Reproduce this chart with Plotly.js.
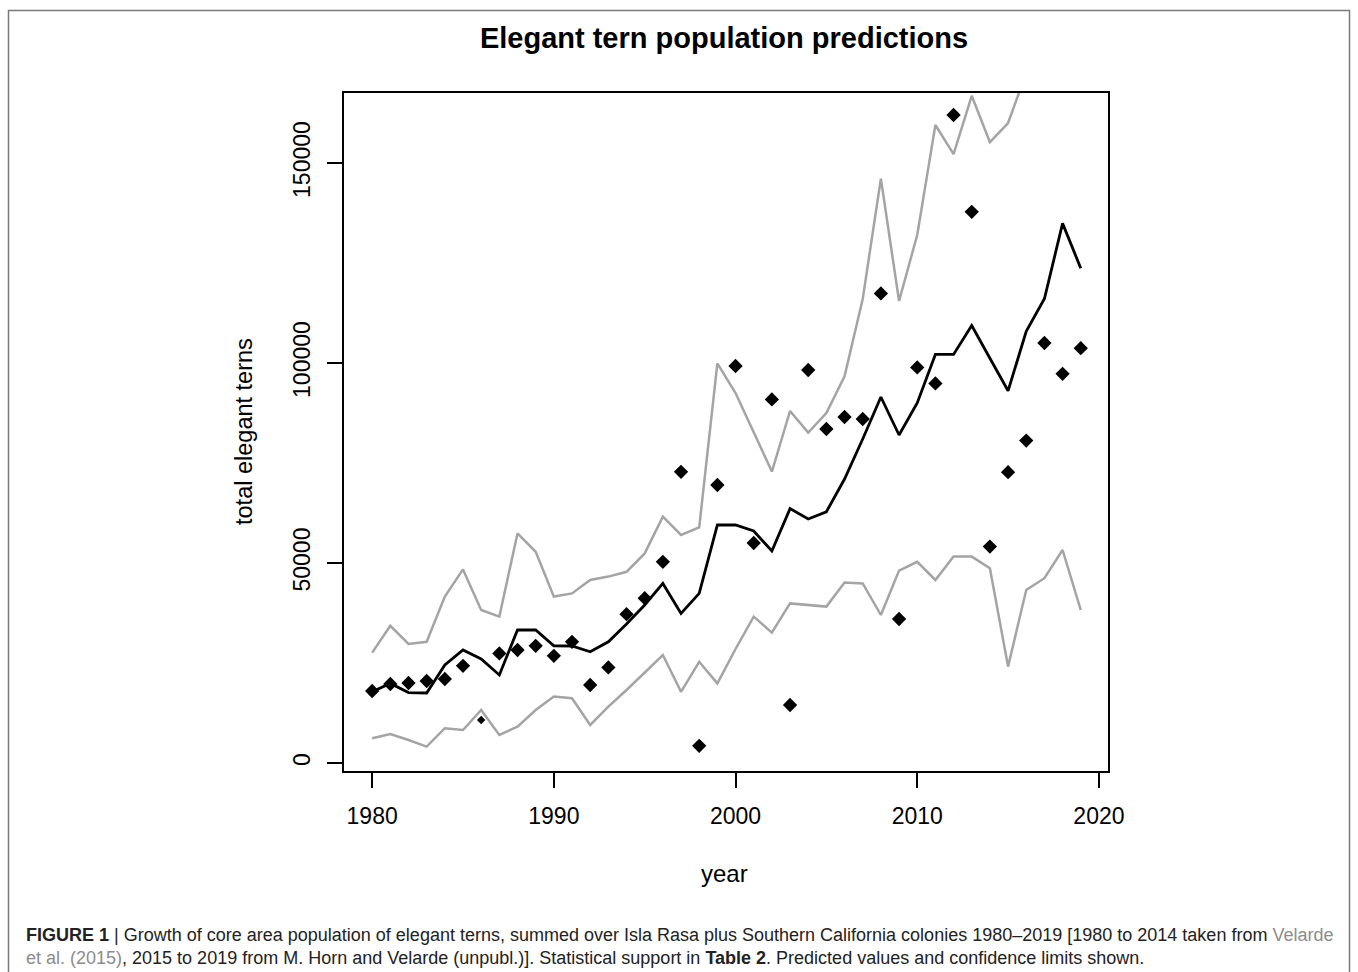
<!DOCTYPE html>
<html>
<head>
<meta charset="utf-8">
<script src="https://cdn.plot.ly/plotly-3.0.1.min.js"></script>
<style>
html,body{margin:0;padding:0;background:#fff;}
#chart{width:1358px;height:972px;}
</style>
</head>
<body>
<div id="chart"></div>
<script>
var years = [];
for (var y = 1980; y <= 2019; y++) years.push(y);

var observed = [18000,19750,20000,20500,21000,24300,10750,27400,28250,29300,
                26800,30300,19500,23900,37200,41200,50300,72800,4300,69500,
                99250,55000,90900,14500,98250,83500,86500,86000,117400,36000,
                98900,94900,162000,137800,54100,72700,80600,105000,97300,103700];

var predicted = [17800,19900,17600,17500,24500,28250,26000,22000,33250,33250,
                 29300,29250,27800,30300,34750,39500,44900,37400,42400,59500,
                 59500,58000,53000,63600,61000,62800,71000,81000,91500,82000,
                 90000,102150,102150,109350,101200,93050,107900,116050,134900,123700];

var upperCL = [27600,34300,29750,30300,41600,48400,38250,36600,57400,52800,
               41600,42400,45750,46600,47800,52400,61600,57000,58900,99900,
               92500,82500,72850,88000,82600,87500,96700,116000,146100,115500,
               132000,159500,152200,166800,155200,160000,172000,185000,215000,195000];

var lowerCL = [6200,7250,5750,4100,8700,8250,13250,7000,9100,13250,
               16600,16200,9500,14100,18250,22600,27000,17800,25300,19900,
               28500,36600,32600,39900,39500,39100,45100,44900,37000,48100,
               50300,45750,51600,51600,48700,24100,43250,46200,53250,38250];

var xTicks = [1980,1990,2000,2010,2020];
var yTicks = [0,50000,100000,150000];

var markerSizes = years.map(function(yr){ return yr === 1986 ? 6.5 : 11; });

var gray = '#a4a4a4';
var traces = [
  {x: years, y: upperCL, mode: 'lines', line: {color: gray, width: 2.5}, hoverinfo: 'skip'},
  {x: years, y: lowerCL, mode: 'lines', line: {color: gray, width: 2.5}, hoverinfo: 'skip'},
  {x: years, y: predicted, mode: 'lines', line: {color: '#000', width: 2.8}},
  {x: years, y: observed, mode: 'markers',
   marker: {symbol: 'diamond', color: '#000', size: markerSizes, opacity: 1, line: {width: 0}}}
];

var W = 1358, H = 972;
var L = 344, R = 1108, T = 93, B = 771;
function px(xp){ return (xp - L) / (R - L); }
function py(yp){ return (B - yp) / (B - T); }

var layout = {
  width: W, height: H,
  margin: {l: L, r: W - R, t: T, b: H - B, pad: 0},
  paper_bgcolor: '#fff', plot_bgcolor: '#fff',
  showlegend: false,
  font: {family: 'Liberation Sans, Arial, sans-serif', color: '#000'},
  title: {text: '<b>Elegant tern population predictions</b>',
          font: {size: 29, family: 'Liberation Sans, Arial, sans-serif', color: '#000'},
          xref: 'paper', x: px(724), xanchor: 'center',
          yref: 'container', y: 1 - 38/H, yanchor: 'middle'},
  xaxis: {range: [1978.45, 2020.5], tickvals: xTicks, ticktext: xTicks.map(String),
          showgrid: false, zeroline: false, showline: true, mirror: true,
          linecolor: '#000', linewidth: 2, ticks: 'outside', ticklen: 15, tickwidth: 2,
          tickcolor: '#000', tickfont: {size: 23}, ticklabelstandoff: 8},
  yaxis: {range: [-2000, 167500], tickvals: yTicks, ticktext: yTicks.map(String),
          showgrid: false, zeroline: false, showline: true, mirror: true,
          linecolor: '#000', linewidth: 2, ticks: 'outside', ticklen: 15, tickwidth: 2,
          tickcolor: '#000', tickfont: {size: 23}, tickangle: -90, ticklabelstandoff: 8},
  annotations: [
    {text: 'year', xref: 'paper', yref: 'paper', x: px(724), y: py(873),
     xanchor: 'center', yanchor: 'middle', showarrow: false, font: {size: 24}},
    {text: 'total elegant terns', xref: 'paper', yref: 'paper', x: px(244), y: py(432),
     xanchor: 'center', yanchor: 'middle', textangle: -90, showarrow: false, font: {size: 23.5}},
    {text: '<b>FIGURE 1</b> | Growth of core area population of elegant terns, summed over Isla Rasa plus Southern California colonies 1980–2019 [1980 to 2014 taken from <span style="color:#8c8c8c">Velarde</span><br><span style="color:#8c8c8c">et al. (2015)</span>, 2015 to 2019 from M. Horn and Velarde (unpubl.)]. Statistical support in <b>Table 2</b>. Predicted values and confidence limits shown.',
     xref: 'paper', yref: 'paper', x: px(24), y: py(946), xanchor: 'left', yanchor: 'middle',
     align: 'left', showarrow: false, font: {size: 18, color: '#222'}}
  ],
  shapes: [
    {type: 'rect', xref: 'paper', yref: 'paper', x0: px(8.5), x1: px(1349.5), y0: py(980), y1: py(10.5),
     line: {color: '#7a7a7a', width: 1.5}, fillcolor: 'rgba(0,0,0,0)', layer: 'below'}
  ]
};

Plotly.newPlot('chart', traces, layout, {displayModeBar: false, staticPlot: true});
</script>
</body>
</html>
